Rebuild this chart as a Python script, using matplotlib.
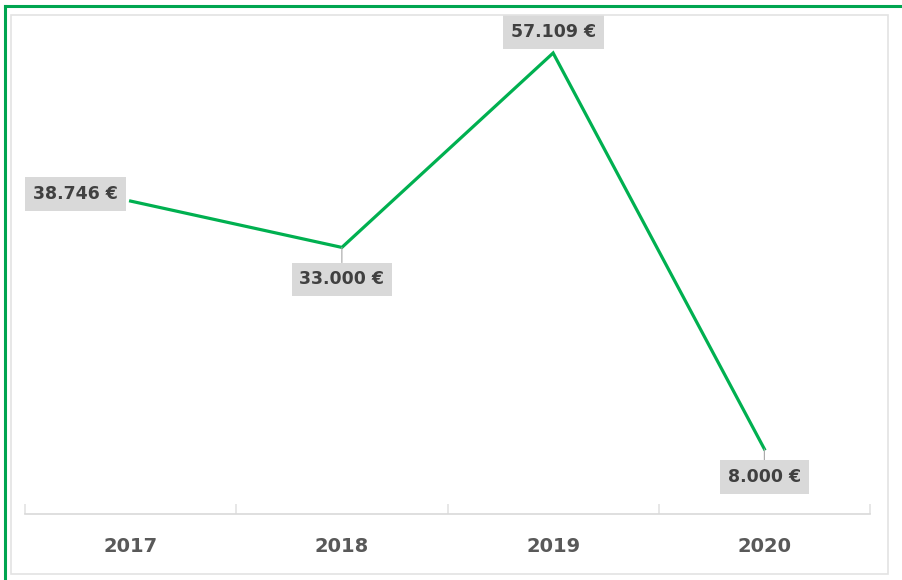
import matplotlib.pyplot as plt
from matplotlib.lines import Line2D
from matplotlib.patches import Rectangle

years = ["2017", "2018", "2019", "2020"]
amounts = [38746, 33000, 57109, 8000]
labels = ["38.746 €", "33.000 €", "57.109 €", "8.000 €"]

W, H = 902, 580
fig = plt.figure(figsize=(W / 100, H / 100), dpi=100)
fig.patch.set_facecolor("white")

# outer green border (left and top) and inner light frame
fig.add_artist(Line2D([5 / W, 5 / W], [0, 1 - 6 / H], color="#00A550", lw=2.2,
                      transform=fig.transFigure))
fig.add_artist(Line2D([5 / W, 1], [1 - 6 / H, 1 - 6 / H], color="#00A550", lw=2.2,
                      transform=fig.transFigure))
fig.add_artist(Rectangle((11 / W, 1 - 574 / H), 877 / W, 559 / H, fill=False,
                         edgecolor="#E3E3E3", lw=1.2, transform=fig.transFigure))

ax = fig.add_axes([25 / W, (H - 513.5) / H, 845 / W, 483.8 / H])
x = list(range(len(years)))
ax.plot(x, amounts, color="#00B050", lw=2.3, solid_joinstyle="miter")
ax.set_xlim(-0.5, 3.5)
ax.set_ylim(0, 60000)

offsets = [(-55, 7), (0, -32), (0, 21), (0, -28)]
for xi, v, lab, off in zip(x, amounts, labels, offsets):
    arrow = None
    if off[0] == 0 and off[1] < 0:
        arrow = dict(arrowstyle="-", color="#A6A6A6", lw=0.8, shrinkA=0, shrinkB=0)
    ax.annotate(lab, (xi, v), xytext=off, textcoords="offset pixels",
                ha="center", va="center", fontsize=12.5, fontweight="bold",
                color="#404040", arrowprops=arrow,
                bbox=dict(boxstyle="square,pad=0.45", facecolor="#D9D9D9", edgecolor="none"))

for s in ["top", "left", "right"]:
    ax.spines[s].set_visible(False)
ax.spines["bottom"].set_color("#D9D9D9")
ax.spines["bottom"].set_linewidth(1.2)
ax.set_yticks([])
ax.set_xticks(x)
ax.set_xticklabels(years, fontsize=14, fontweight="bold", color="#595959")
ax.tick_params(axis="x", which="major", length=0, pad=17)
ax.set_xticks([-0.5, 0.5, 1.5, 2.5, 3.5], minor=True)
ax.tick_params(axis="x", which="minor", direction="in", length=7, color="#E3E3E3", width=1.2)
ax.patch.set_alpha(0)

fig.savefig("out.png", dpi=100)
